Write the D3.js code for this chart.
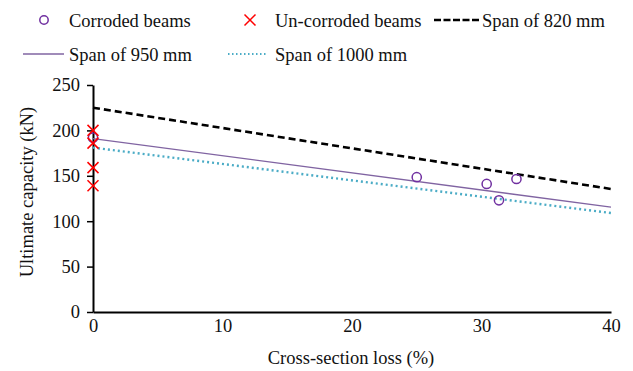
<!DOCTYPE html>
<html>
<head>
<meta charset="utf-8">
<script src="https://cdn.jsdelivr.net/npm/d3@7"></script>
<style>
  html, body { margin: 0; padding: 0; background: #fff; }
  svg { display: block; }
  text { font-family: "Liberation Serif", "Times New Roman", serif; fill: #111; }
</style>
</head>
<body>
<svg id="chart" width="633" height="371"></svg>
<script>
// Test results: corroded beams (cross-section loss vs. ultimate capacity)
const corrodedLoss = [0, 25, 30.4, 31.35, 32.7];
const corrodedCap  = [192, 148.5, 141, 123, 146.5];

// Un-corroded control beams (all at zero loss)
const uncorrodedLoss = [0, 0, 0, 0];
const uncorrodedCap  = [200, 186, 159, 139];

// Predicted capacity lines for each span, evaluated at 0 % and 40 % loss
const lineLoss   = [0, 40];
const span820    = [225, 135.5];
const span950    = [191, 115.5];
const span1000   = [181, 109];

const xTicks = [0, 10, 20, 30, 40];
const yTicks = [0, 50, 100, 150, 200, 250];

const svg = d3.select("#chart");
const FONT = 18.5;

const x = d3.scaleLinear().domain([0, 40]).range([93, 611]);
const y = d3.scaleLinear().domain([0, 250]).range([312, 85]);

// Axes
const yAxis = svg.append("g")
  .attr("transform", `translate(${x(0)},0)`)
  .call(d3.axisLeft(y).tickValues(yTicks).tickSize(6).tickPadding(7).tickSizeOuter(0));
const xAxis = svg.append("g")
  .attr("transform", `translate(0,${y(0)})`)
  .call(d3.axisBottom(x).tickValues(xTicks).tickSize(0).tickPadding(7).tickSizeOuter(0));

[yAxis, xAxis].forEach(g => {
  g.selectAll(".domain").attr("stroke", "#000").attr("stroke-width", 2);
  g.selectAll(".tick line").attr("stroke", "#000").attr("stroke-width", 1.5);
  g.selectAll("text").attr("font-family", "Liberation Serif, Times New Roman, serif")
    .attr("font-size", FONT).attr("fill", "#111");
});

// Axis titles
svg.append("text")
  .attr("x", 351).attr("y", 364)
  .attr("text-anchor", "middle").attr("font-size", FONT)
  .text("Cross-section loss (%)");
svg.append("text")
  .attr("transform", "translate(33,192) rotate(-90)")
  .attr("text-anchor", "middle").attr("font-size", FONT)
  .text("Ultimate capacity (kN)");

// Prediction lines
const line = d3.line().x(d => x(d[0])).y(d => y(d[1]));
const styles = {
  s820:  { stroke: "#000", width: 2.6, dash: "7,4" },
  s950:  { stroke: "#8064A2", width: 1.3, dash: null },
  s1000: { stroke: "#4BACC6", width: 2.4, dash: "2,3" }
};
function drawLine(vals, st) {
  svg.append("path")
    .datum(lineLoss.map((l, i) => [l, vals[i]]))
    .attr("d", line)
    .attr("fill", "none")
    .attr("stroke", st.stroke)
    .attr("stroke-width", st.width)
    .attr("stroke-dasharray", st.dash);
}
drawLine(span820, styles.s820);
drawLine(span950, styles.s950);
drawLine(span1000, styles.s1000);

// Markers
const crossSize = 5.5;
function cross(g, cx, cy) {
  g.append("path")
    .attr("d", `M${cx - crossSize},${cy - crossSize}L${cx + crossSize},${cy + crossSize}M${cx - crossSize},${cy + crossSize}L${cx + crossSize},${cy - crossSize}`)
    .attr("stroke", "#FF0000").attr("stroke-width", 1.5).attr("fill", "none");
}
svg.append("g").selectAll("circle")
  .data(corrodedLoss.map((l, i) => [l, corrodedCap[i]]))
  .join("circle")
  .attr("cx", d => x(d[0])).attr("cy", d => y(d[1]))
  .attr("r", 4.6)
  .attr("fill", "none").attr("stroke", "#7030A0").attr("stroke-width", 1.5);
const crossG = svg.append("g");
uncorrodedLoss.forEach((l, i) => cross(crossG, x(l), y(uncorrodedCap[i])));

// Legend
const leg = svg.append("g");
leg.append("circle").attr("cx", 44).attr("cy", 20).attr("r", 4.2)
  .attr("fill", "none").attr("stroke", "#7030A0").attr("stroke-width", 1.5);
leg.append("text").attr("x", 69).attr("y", 27).attr("font-size", FONT).text("Corroded beams");
cross(leg, 250, 20);
leg.append("text").attr("x", 275).attr("y", 27).attr("font-size", FONT).text("Un-corroded beams");
leg.append("line").attr("x1", 434).attr("x2", 479).attr("y1", 20).attr("y2", 20)
  .attr("stroke", "#000").attr("stroke-width", 2.6).attr("stroke-dasharray", "7,2.5");
leg.append("text").attr("x", 482).attr("y", 27).attr("font-size", FONT).text("Span of 820 mm");
leg.append("line").attr("x1", 23).attr("x2", 64).attr("y1", 54).attr("y2", 54)
  .attr("stroke", "#8064A2").attr("stroke-width", 1.3);
leg.append("text").attr("x", 69).attr("y", 61).attr("font-size", FONT).text("Span of 950 mm");
leg.append("line").attr("x1", 228).attr("x2", 268).attr("y1", 54).attr("y2", 54)
  .attr("stroke", "#4BACC6").attr("stroke-width", 2).attr("stroke-dasharray", "1.5,2.5");
leg.append("text").attr("x", 275).attr("y", 61).attr("font-size", FONT).text("Span of 1000 mm");
</script>
</body>
</html>
